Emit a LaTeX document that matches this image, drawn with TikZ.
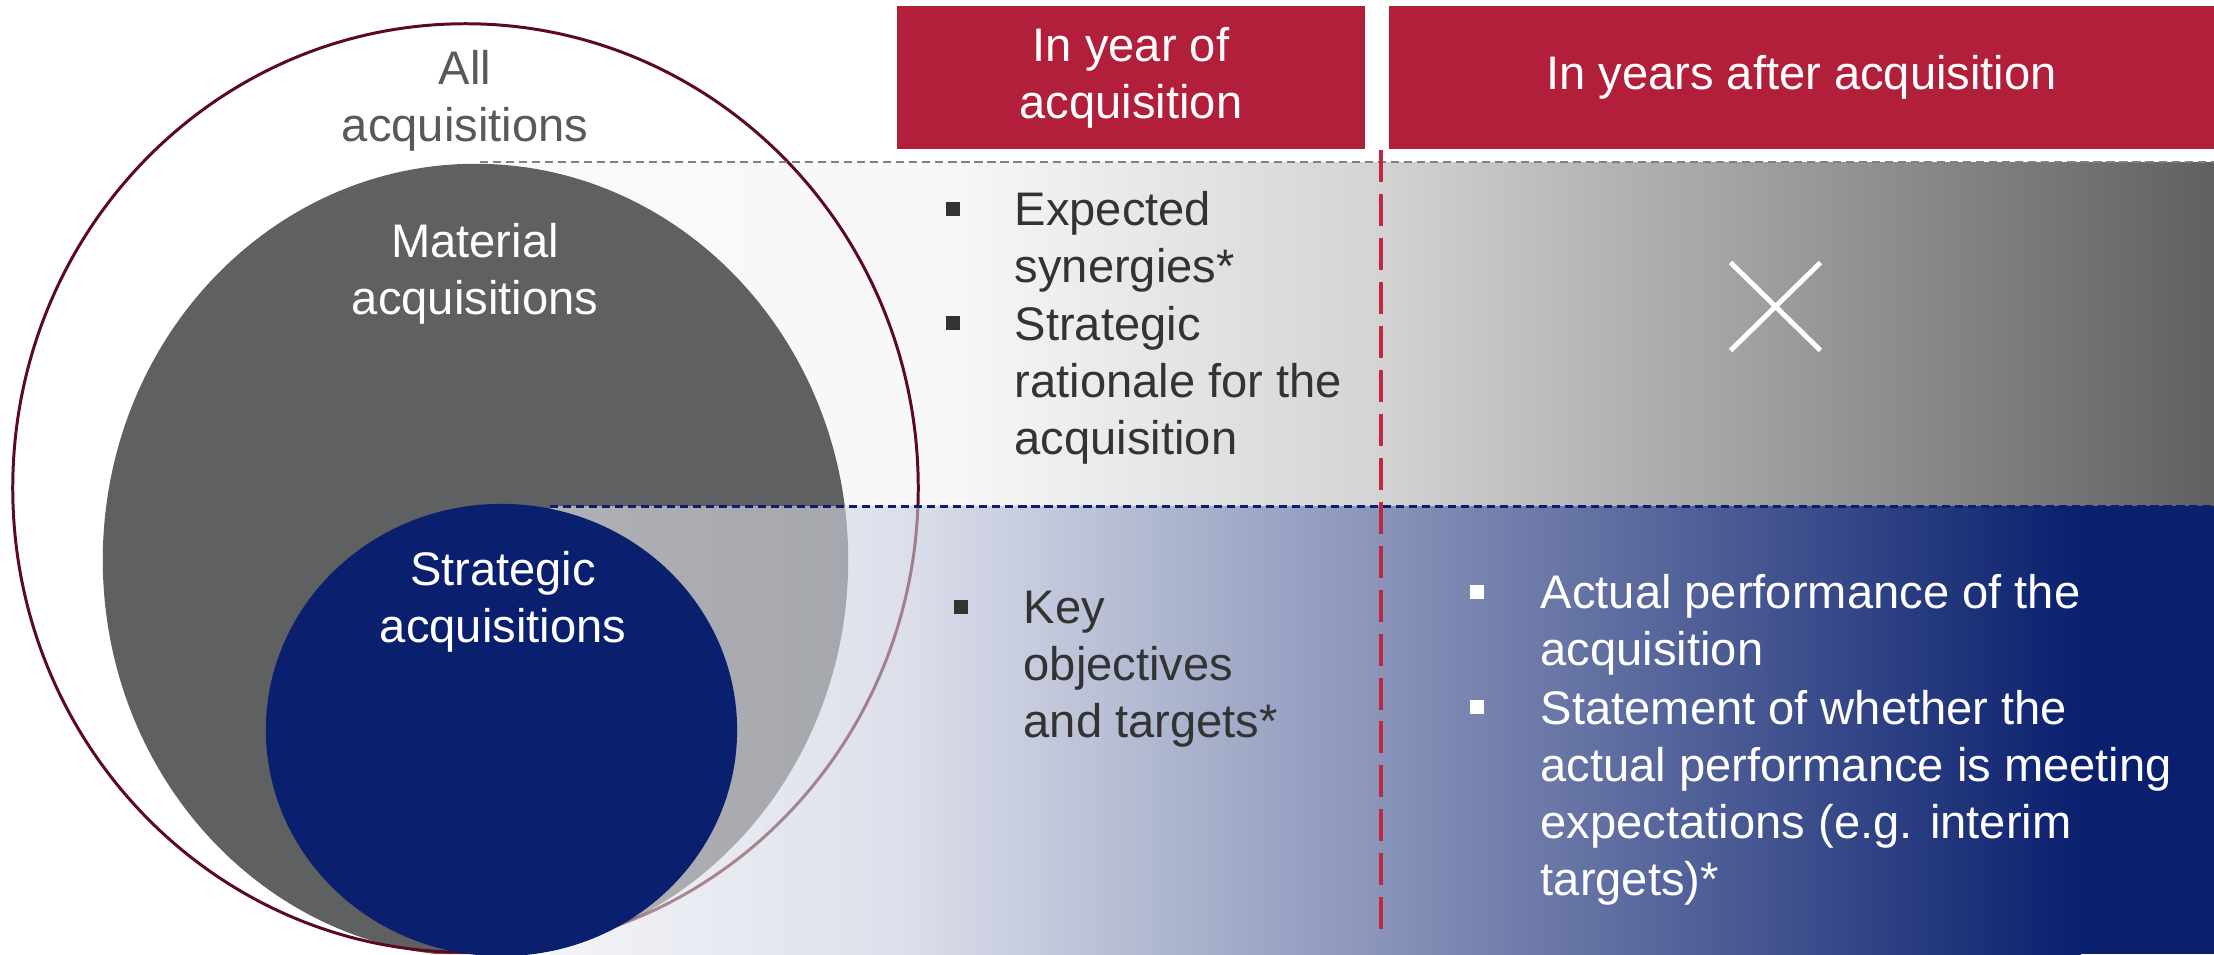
\documentclass[tikz,border=0pt]{standalone}
\usepackage{fontspec}
\setmainfont{Liberation Sans}
\usetikzlibrary{positioning,calc,shapes.misc}
\definecolor{hdrred}{HTML}{B21F3B}
\definecolor{navy}{HTML}{0A206E}
\definecolor{matgray}{HTML}{5F6062}
\definecolor{allline}{HTML}{5C0A1E}
\definecolor{dashred}{HTML}{C0283F}
\definecolor{txtgray}{HTML}{333333}
\definecolor{lblgray}{HTML}{595959}
\newcommand\bodyfont{\fontsize{13.4}{16.2}\selectfont}
\tikzstyle{hdr} = [fill=hdrred,text=white,minimum height=1.43cm,inner sep=0pt,align=center,font=\bodyfont]
\tikzstyle{item} = [anchor=base west,align=left,inner sep=0pt,font=\bodyfont]
\tikzstyle{sq} = [minimum size=0.14cm,inner sep=0pt]
\tikzstyle{lbl} = [anchor=base,align=center,inner sep=0pt,font=\bodyfont]
\tikzstyle{rowline} = [line width=0.85pt,dash pattern=on 2.3pt off 1.4pt]

\begin{document}
\begin{tikzpicture}[x=0.01cm,y=-0.01cm]
    \useasboundingbox (0,0) rectangle (2214,954);
    \shade[left color=black!2,right color=black!3] (480,162) rectangle (951,506);
    \shade[left color=black!3,right color=black!17] (950,162) rectangle (1381,506);
    \shade[left color=black!17,right color=matgray] (1380,162) rectangle (2214,506);
    \shade[left color=navy!5,right color=navy!14] (550,506) rectangle (901,954);
    \shade[left color=navy!14,right color=navy!48] (900,506) rectangle (1381,954);
    \shade[left color=navy!48,right color=navy] (1380,506) rectangle (2081,954);
    \fill[navy] (2080,506) rectangle (2214,954);
    \begin{scope}
        \clip (0,0) rectangle (2214,506) (0,506) rectangle (550,954);
        \fill[matgray] (475.5,560) ellipse [x radius=3.725cm,y radius=3.96cm];
        \draw[allline,line width=0.85pt] (465.5,488) ellipse [x radius=4.525cm,y radius=4.64cm];
    \end{scope}
    \begin{scope}
        \clip (550,506) rectangle (2214,954);
        \fill[matgray,fill opacity=0.45] (475.5,560) ellipse [x radius=3.725cm,y radius=3.96cm];
        \draw[allline,draw opacity=0.45,line width=0.85pt] (465.5,488) ellipse [x radius=4.525cm,y radius=4.64cm];
    \end{scope}
    \fill[navy] (501.5,730) ellipse [x radius=2.355cm,y radius=2.26cm];

    \coordinate (g_0) at (480,162);
    \coordinate (g_1) at (2214,162);
    \coordinate (b_0) at (550,506);
    \coordinate (b_1) at (2214,506);
    \coordinate (r_0) at (1381,150);
    \coordinate (r_1) at (1381,930);
    \draw[rowline,black!50] (g_0) -- (g_1);
    \draw[rowline,navy] (b_0) -- (b_1);
    \draw[dashred,line width=1.1pt,dash pattern=on 9.1pt off 3.4pt] (r_0) -- (r_1);

    \node[hdr,minimum width=4.68cm] (h_0) at (1131,77.5) {In year of\\acquisition};
    \node[hdr,minimum width=8.25cm] (h_1) at (1801.5,77.5) {In years after acquisition};

    \node[lbl,text=lblgray] (l_all) at (465,141) {All\\acquisitions};
    \node[lbl,text=white] (l_mat) at (475,314) {Material\\acquisitions};
    \node[lbl,text=white] (l_str) at (503,642) {Strategic\\acquisitions};

    \node[item,text=txtgray] (e_1) at (1014,282) {Expected\\synergies*};
    \node[item,text=txtgray] (e_2) at (1014,454) {Strategic\\rationale for the\\acquisition};
    \node[item,text=txtgray] (k_1) at (1023,737) {Key\\objectives\\and targets*};
    \node[item,text=white] (a_1) at (1540,665) {Actual performance of the\\acquisition};
    \node[item,text=white] (a_2) at (1540,895) {Statement of whether the\\actual performance is meeting\\expectations (e.g. interim\\targets)*};
    \node[sq,fill=txtgray] (s_1) at ([shift={(-61,-73)}]e_1.base west) {};
    \node[sq,fill=txtgray] (s_2) at ([shift={(-61,-131)}]e_2.base west) {};
    \node[sq,fill=txtgray] (s_3) at ([shift={(-62,-130)}]k_1.base west) {};
    \node[sq,fill=white] (s_4) at ([shift={(-63,-73)}]a_1.base west) {};
    \node[sq,fill=white] (s_5) at ([shift={(-63,-188)}]a_2.base west) {};

    \node[cross out,draw=white,line width=1.4pt,minimum width=0.85cm,minimum height=0.83cm] (nox) at (1775.5,306.5) {};
\end{tikzpicture}
\end{document}
